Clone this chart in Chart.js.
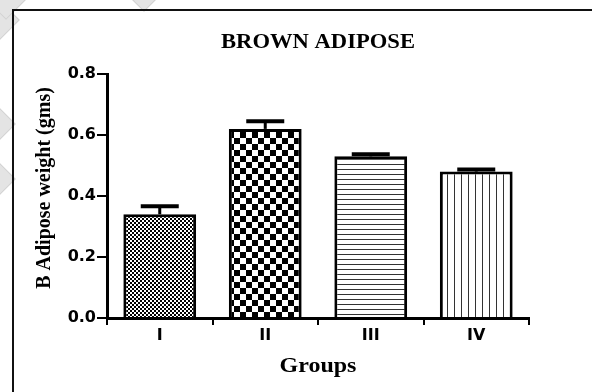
<!DOCTYPE html>
<html>
<head>
<meta charset="utf-8">
<script src="https://cdn.jsdelivr.net/npm/chart.js@4/dist/chart.umd.min.js"></script>
<style>
  html, body { margin: 0; padding: 0; background: #fff; }
  #wrap { position: relative; width: 592px; height: 392px; overflow: hidden; background: #fff; }
  .mark { position: absolute; width: 26px; height: 26px; transform: rotate(45deg);
          background: #e4e4e4; border: 1px solid #d2d2d2; }
  #frame { position: absolute; left: 12px; top: 9px; right: 0; bottom: 0;
           border-top: 2px solid #111; border-left: 2px solid #111; }
  canvas { position: absolute; left: 0; top: 0; }
</style>
</head>
<body>
<div id="wrap">
  <div class="mark" style="left:-14px; top:6px;"></div>
  <div class="mark" style="left:-8px; top:-14px;"></div>
  <div class="mark" style="left:130px; top:-22px;"></div>
  <div class="mark" style="left:-18px; top:110px;"></div>
  <div class="mark" style="left:-18px; top:165px;"></div>
  <div id="frame"></div>
  <canvas id="chart" width="592" height="392"></canvas>
</div>
<script>
// Brown adipose tissue weight per group (mean ± SEM, grams)
const groups = ['I', 'II', 'III', 'IV'];
const meanWeight = [0.34, 0.62, 0.53, 0.48];
const semWeight = [0.026, 0.025, 0.007, 0.007];
const yTicks = [0.0, 0.2, 0.4, 0.6, 0.8];
const chartTitle = 'BROWN ADIPOSE';
const xTitle = 'Groups';
const yTitle = 'B Adipose weight (gms)';

// Monochrome fill patterns, one per group
function makePattern(kind) {
  const c = document.createElement('canvas');
  const g = c.getContext('2d');
  if (kind === 'fineCheck') {
    c.width = 4; c.height = 4;
    g.fillStyle = '#fff'; g.fillRect(0, 0, 4, 4);
    g.fillStyle = '#000'; g.fillRect(0, 0, 2, 2); g.fillRect(2, 2, 2, 2);
  } else if (kind === 'bigCheck') {
    c.width = 12; c.height = 12;
    g.fillStyle = '#fff'; g.fillRect(0, 0, 12, 12);
    g.fillStyle = '#000'; g.fillRect(0, 0, 6, 6); g.fillRect(6, 6, 6, 6);
  } else if (kind === 'hLines') {
    c.width = 5; c.height = 5;
    g.fillStyle = '#fff'; g.fillRect(0, 0, 5, 5);
    g.fillStyle = '#333'; g.fillRect(0, 4, 5, 1);
  } else {
    c.width = 7; c.height = 7;
    g.fillStyle = '#fff'; g.fillRect(0, 0, 7, 7);
    g.fillStyle = '#333'; g.fillRect(6, 0, 1, 7);
  }
  return document.getElementById('chart').getContext('2d').createPattern(c, 'repeat');
}
const fills = [makePattern('fineCheck'), makePattern('bigCheck'), makePattern('hLines'), makePattern('vLines')];

// Draws SEM whiskers above each bar using the chart's own y scale
const errorBars = {
  id: 'errorBars',
  afterDatasetsDraw(chart) {
    const ctx = chart.ctx;
    const yScale = chart.scales.y;
    const meta = chart.getDatasetMeta(0);
    ctx.save();
    ctx.strokeStyle = '#000';
    meta.data.forEach((bar, i) => {
      const yTop = yScale.getPixelForValue(meanWeight[i] + semWeight[i]);
      ctx.lineWidth = 3;
      ctx.beginPath();
      ctx.moveTo(bar.x, bar.y);
      ctx.lineTo(bar.x, yTop);
      ctx.stroke();
      ctx.lineWidth = 4;
      ctx.beginPath();
      ctx.moveTo(bar.x - 19, yTop);
      ctx.lineTo(bar.x + 19, yTop);
      ctx.stroke();
    });
    ctx.restore();
  }
};

// Chart title and axis titles in a broad bold serif
const titles = {
  id: 'titles',
  afterDraw(chart) {
    const { ctx, chartArea } = chart;
    const cx = (chartArea.left + chartArea.right) / 2;
    const cy = (chartArea.top + chartArea.bottom) / 2;
    ctx.save();
    ctx.fillStyle = '#000';
    ctx.textAlign = 'center';
    ctx.textBaseline = 'alphabetic';
    ctx.font = 'bold 20px "Liberation Serif", "Times New Roman", serif';

    ctx.save();
    ctx.translate(cx, chartArea.top - 26);
    ctx.scale(1.13, 1);
    ctx.fillText(chartTitle, 0, 0);
    ctx.restore();

    ctx.save();
    ctx.translate(cx, chartArea.bottom + 54);
    ctx.scale(1.2, 1);
    ctx.fillText(xTitle, 0, 0);
    ctx.restore();

    ctx.save();
    ctx.translate(chartArea.left - 57, cy - 8);
    ctx.rotate(-Math.PI / 2);
    ctx.fillText(yTitle, 0, 0);
    ctx.restore();

    ctx.restore();
  }
};

const tickFont = { family: '"DejaVu Sans", "Liberation Sans", Arial, sans-serif', size: 16, weight: 'bold' };

new Chart(document.getElementById('chart'), {
  type: 'bar',
  data: {
    labels: groups,
    datasets: [{
      data: meanWeight,
      backgroundColor: fills,
      borderColor: '#000',
      borderWidth: 3,
      borderSkipped: 'bottom',
      barPercentage: 0.69,
      categoryPercentage: 1.0
    }]
  },
  options: {
    responsive: false,
    animation: false,
    layout: { padding: { left: 0, right: 63, top: 74, bottom: 0 } },
    plugins: {
      legend: { display: false },
      tooltip: { enabled: false },
      title: { display: false }
    },
    scales: {
      x: {
        grid: { display: true, drawOnChartArea: false, drawTicks: true, tickLength: 7, color: '#000', lineWidth: 2 },
        border: { display: true, color: '#000', width: 3 },
        ticks: { color: '#000', font: tickFont, padding: 1 },
        afterFit(scale) { scale.height = 74; }
      },
      y: {
        min: 0, max: 0.8,
        afterBuildTicks(scale) { scale.ticks = yTicks.map(v => ({ value: v })); },
        grid: { display: true, drawOnChartArea: false, drawTicks: true, tickLength: 10, color: '#000', lineWidth: 2 },
        border: { display: true, color: '#000', width: 3 },
        ticks: { color: '#000', font: tickFont, padding: 1, callback: v => v.toFixed(1) },
        afterFit(scale) { scale.width = 107; }
      }
    }
  },
  plugins: [errorBars, titles]
});
</script>
</body>
</html>
